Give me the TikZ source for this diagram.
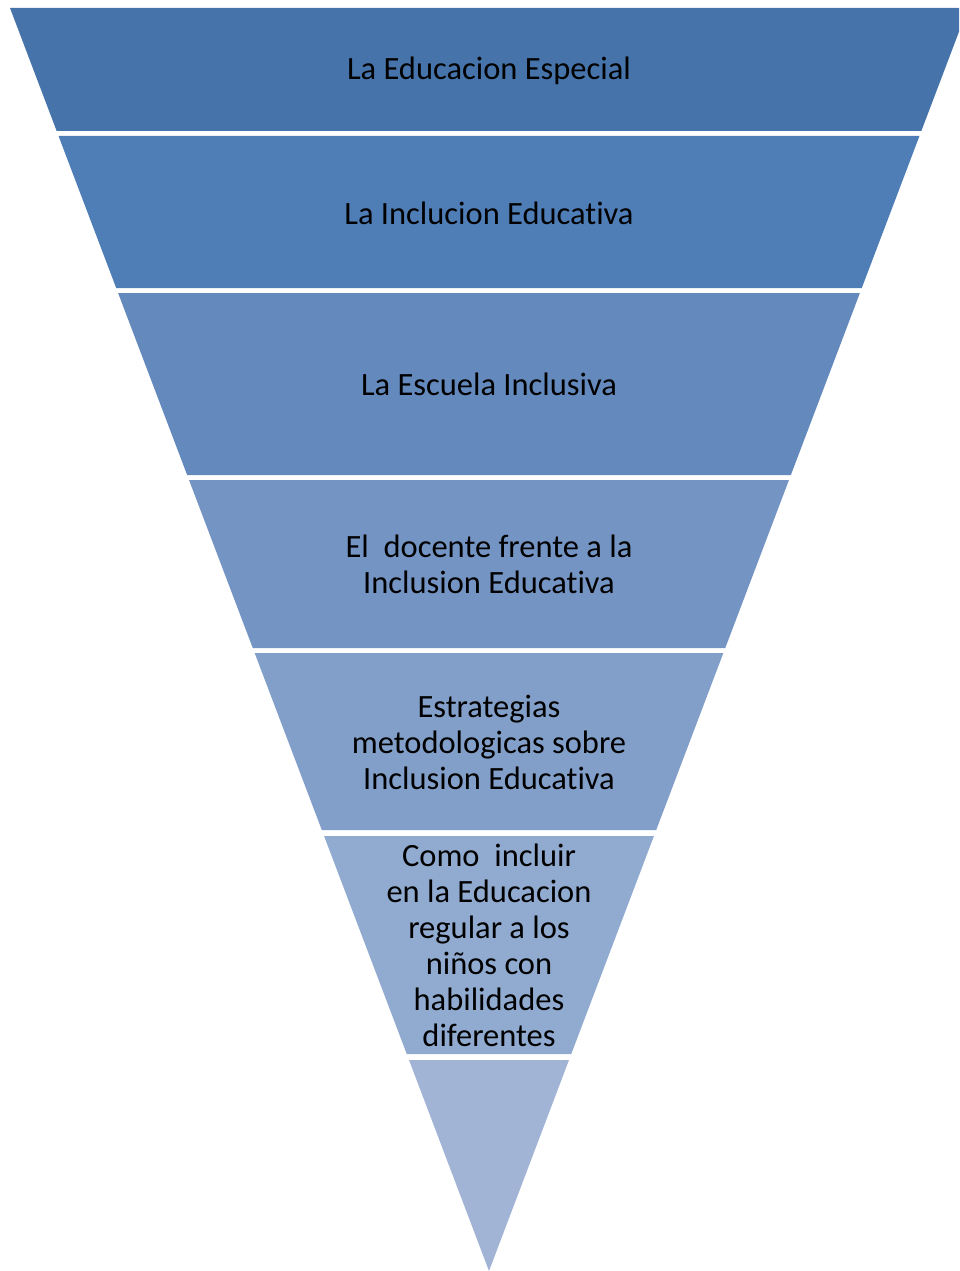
\documentclass[tikz,border=0pt]{standalone}
\usepackage{fontspec}
\setmainfont{Carlito}[Ligatures=NoCommon]
\definecolor{bA}{HTML}{4674AA}
\definecolor{bB}{HTML}{4F7EB7}
\definecolor{bC}{HTML}{6489BD}
\definecolor{bD}{HTML}{7494C4}
\definecolor{bE}{HTML}{829FC9}
\definecolor{bF}{HTML}{90AAD0}
\definecolor{bG}{HTML}{A1B4D5}
\tikzset{
  band/.style={draw=none},
  lbl/.style={font=\fontsize{32.5}{36}\selectfont, align=center, text=black, inner sep=0pt}
}
\begin{document}
\begin{tikzpicture}[x=1pt,y=-1pt]
\useasboundingbox (0,0) rectangle (959,1271);
\clip (0,0) rectangle (959,1271);
\newcommand{\mkband}[3]{%
  \pgfmathsetmacro{\lt}{10+0.3793*(#1-8)}%
  \pgfmathsetmacro{\rt}{968-0.3793*(#1-8)}%
  \pgfmathsetmacro{\lb}{10+0.3793*(#2-8)}%
  \pgfmathsetmacro{\rb}{968-0.3793*(#2-8)}%
  \fill[band,#3] (\lt,#1) -- (\rt,#1) -- (\rb,#2) -- (\lb,#2) -- cycle;}
\mkband{8}{131}{bA}
\mkband{136}{288}{bB}
\mkband{293}{475}{bC}
\mkband{480}{648}{bD}
\mkband{653}{830}{bE}
\mkband{836}{1054}{bF}
\fill[band,bG] (409,1060) -- (569,1060) -- (489,1271) -- cycle;
\node[lbl] (t1) at (489,71) {La Educacion Especial};
\node[lbl] (t2) at (489,213) {La Inclucion Educativa};
\node[lbl] (t3) at (489,384) {La Escuela Inclusiva};
\node[lbl] (t4) at (489,564) {El\ \ docente frente a la\\Inclusion Educativa};
\node[lbl] (t5) at (489,742) {Estrategias\\metodologicas sobre\\Inclusion Educativa};
\node[lbl] (t6) at (489,945) {Como\ \ incluir\\en la Educacion\\regular a los\\niños con\\habilidades\\diferentes};
\end{tikzpicture}
\end{document}
